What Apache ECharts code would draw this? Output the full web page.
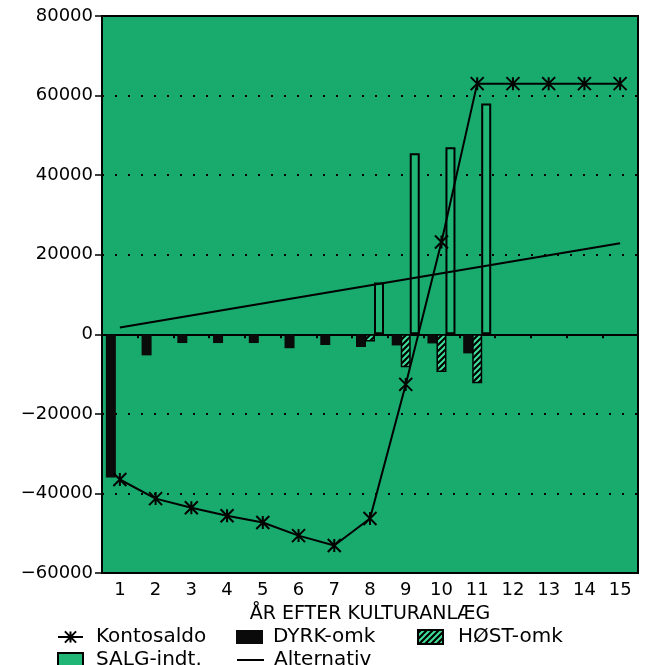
<!DOCTYPE html>
<html>
<head>
<meta charset="utf-8">
<script src="https://cdn.jsdelivr.net/npm/echarts@6/dist/echarts.min.js"></script>
<style>
  html, body { margin: 0; background: #fff; }
  #chart { width: 645px; height: 665px; }
</style>
</head>
<body>
<div id="chart"></div>
<script>
// år efter kulturanlæg
const years = ['1', '2', '3', '4', '5', '6', '7', '8', '9', '10', '11', '12', '13', '14', '15'];
const kontosaldo = [-36500, -41300, -43600, -45600, -47300, -50600, -53100, -46300, -12600, 23200, 63000, 63000, 63000, 63000, 63000];
const dyrkOmk = [-36000, -5300, -2200, -2200, -2200, -3500, -2700, -3200, -2800, -2300, -4800, null, null, null, null];
const hostOmk = [null, null, null, null, null, null, null, -1800, -8300, -9500, -12300, null, null, null, null];
const salgIndt = [null, null, null, null, null, null, null, 13000, 45500, 47000, 58000, null, null, null, null];
// straight line, only the two ends are read
const alternativ = [1700, null, null, null, null, null, null, null, null, null, null, null, null, null, 22900];
const yTicks = [-60000, -40000, -20000, 0, 20000, 40000, 60000, 80000];

const green = '#18ab6d';
const font = 'DejaVu Sans';

// hatch for HØST-omk
function hatch() {
  const c = document.createElement('canvas');
  c.width = 6; c.height = 6;
  const g = c.getContext('2d');
  g.fillStyle = '#000';
  g.fillRect(0, 0, 6, 6);
  g.strokeStyle = '#3fe09a';
  g.lineWidth = 2;
  g.beginPath();
  g.moveTo(-1, 7); g.lineTo(7, -1);
  g.moveTo(-1, 1); g.lineTo(1, -1);
  g.moveTo(5, 7); g.lineTo(7, 5);
  g.stroke();
  return c;
}

const star = 'path://M0,0L10,10M10,0L0,10M5,0L5,10';

const chart = echarts.init(document.getElementById('chart'));

function legendItem(item, left, top, w, pad) {
  return {
    left: left, top: top, padding: 0, itemWidth: w, itemHeight: 14,
    data: [item],
    textStyle: { color: '#000', fontFamily: font, fontSize: 20, padding: [0, 0, 0, pad] }
  };
}

const option = {
  animation: false,
  grid: {
    left: 102, right: 7, top: 16, bottom: 92,
    show: true, backgroundColor: green, borderColor: '#000', borderWidth: 2
  },
  xAxis: [
    {
      type: 'category', data: years,
      axisLine: { onZero: true, lineStyle: { color: '#000', width: 2 } },
      axisTick: { show: true, length: 4, lineStyle: { color: '#000', width: 2 } },
      axisLabel: { show: false },
      splitLine: { show: false }
    },
    {
      type: 'category', data: years, position: 'bottom',
      axisLine: { show: false, onZero: false },
      axisTick: { show: false },
      axisLabel: { color: '#000', fontFamily: font, fontSize: 18, margin: 8 },
      name: 'ÅR EFTER KULTURANLÆG',
      nameLocation: 'middle',
      nameGap: 32,
      nameTextStyle: { color: '#000', fontFamily: font, fontSize: 19 }
    }
  ],
  yAxis: {
    type: 'value', min: yTicks[0], max: yTicks[yTicks.length - 1], interval: 20000,
    axisLine: { show: true, lineStyle: { color: '#000', width: 2 } },
    axisTick: { show: true, length: 7, lineStyle: { color: '#000', width: 1.5 } },
    axisLabel: { color: '#000', fontFamily: font, fontSize: 18, margin: 9,
      formatter: v => (v < 0 ? '\u2212' + (-v) : String(v)) },
    splitLine: { show: true, lineStyle: { color: '#000', width: 2, type: [2, 11] } }
  },
  legend: [
    legendItem('Kontosaldo', 57, 627, 25, 8),
    legendItem({ name: 'DYRK-omk', icon: 'rect' }, 236, 627, 27, 5),
    legendItem({ name: 'HØST-omk', icon: 'rect' }, 417, 627, 25, 10),
    legendItem({ name: 'SALG-indt.', icon: 'rect' }, 57, 650, 25, 8),
    legendItem({ name: 'Alternativ', itemStyle: { opacity: 0 } }, 236, 650, 27, 5)
  ],
  series: [
    {
      name: 'DYRK-omk', type: 'bar', data: dyrkOmk, barWidth: 10, barGap: '-10%',
      itemStyle: { color: '#0a0a0a' }, z: 2
    },
    {
      name: 'HØST-omk', type: 'bar', data: hostOmk, barWidth: 10, barGap: '-10%',
      itemStyle: { color: { image: hatch(), repeat: 'repeat' }, borderColor: '#000', borderWidth: 1.5 }, z: 3
    },
    {
      name: 'SALG-indt.', type: 'bar', data: salgIndt, barWidth: 10, barGap: '-10%',
      itemStyle: { color: '#1fb676', borderColor: '#000', borderWidth: 2 }, z: 2
    },
    {
      name: 'Alternativ', type: 'line', data: alternativ, connectNulls: true,
      symbol: 'none', lineStyle: { color: '#000', width: 2 },
      itemStyle: { color: '#000' }, z: 4
    },
    {
      name: 'Kontosaldo', type: 'line', data: kontosaldo,
      symbol: star, symbolSize: 13,
      lineStyle: { color: '#000', width: 2 },
      itemStyle: { color: 'none', borderColor: '#000', borderWidth: 2 }, z: 5
    }
  ]
};

chart.setOption(option);
</script>
</body>
</html>
